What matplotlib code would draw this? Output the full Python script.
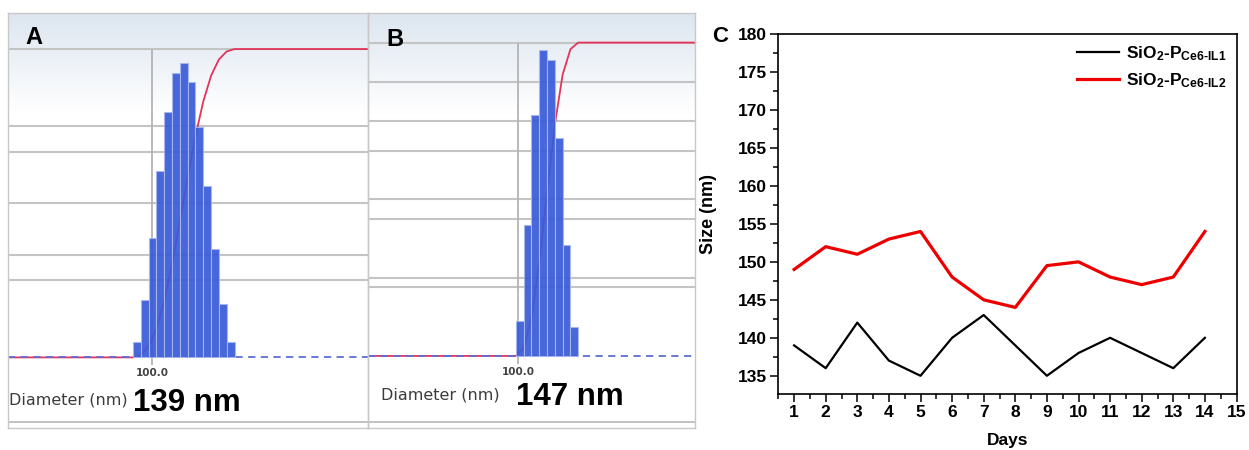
import numpy as np
import matplotlib.pyplot as plt
from matplotlib.ticker import MultipleLocator, NullLocator

plt.rcParams['font.family'] = 'Liberation Sans'
plt.rcParams['mathtext.fontset'] = 'custom'
plt.rcParams['mathtext.rm'] = 'Liberation Sans:bold'
plt.rcParams['mathtext.it'] = 'Liberation Sans:bold'
plt.rcParams['mathtext.bf'] = 'Liberation Sans:bold'

# =============================
# Data
# =============================
# panel A: DLS size distribution (bin edges in nm, bar heights scaled so cumulative plateau = 100)
edges_a = [70.3, 81.3, 94.0, 108.6, 125.6, 145.2, 167.8, 194.0, 224.3, 259.3, 299.7, 346.5, 400.5, 463.0]
heights_a = [5.1, 18.6, 38.7, 60.5, 79.6, 92.1, 95.6, 89.4, 74.8, 55.7, 35.2, 17.3, 5.1]
grid_a = [25, 33.3, 50, 66.7, 75, 100]
size_a = "139 nm"

# panel B
edges_b = [96.3, 111.3, 128.7, 148.8, 172.0, 198.8, 229.8, 265.7, 307.1]
heights_b = [11.3, 41.8, 76.9, 97.7, 94.5, 69.7, 35.4, 9.2]
grid_b = [21.9, 25, 43.7, 50, 65.5, 75, 87.4, 100]
size_b = "147 nm"

# panel C: size stability over 14 days
days = list(range(1, 15))
size_il1 = [139, 136, 142, 137, 135, 140, 143, 139, 135, 138, 140, 138, 136, 140]
size_il2 = [149, 152, 151, 153, 154, 148, 145, 144, 149.5, 150, 148, 147, 148, 154]

W, H = 1249, 450
fig = plt.figure(figsize=(12.49, 4.5), dpi=100)


def px_axes(x0, y0, x1, y1):
    return fig.add_axes([x0 / W, 1 - y1 / H, (x1 - x0) / W, (y1 - y0) / H])


def px_text(x, y, s, **kw):
    fig.text(x / W, 1 - y / H, s, **kw)


# background gradient behind A and B
bg = px_axes(8, 13, 695, 428)
t = np.linspace(0, 1, 300)[:, None, None]
frac = np.clip(t / 0.24, 0, 1)
top = np.array([0.865, 0.9, 0.94])
bg.imshow(top * (1 - frac) + np.ones(3) * frac, aspect='auto', extent=[0, 1, 0, 1])
bg.axis('off')


def dls_panel(box, edges, heights, grids, xlim, ylim, bottom_line):
    ax = px_axes(*box)
    ax.set_facecolor('none')
    ax.set_xscale('log')
    ax.set_xlim(xlim)
    ax.set_ylim(ylim)
    for g in grids:
        ax.axhline(g, color='#c4c4c4', lw=1.5, zorder=1)
    ax.axhline(bottom_line, color='#b8b8b8', lw=1.2, zorder=1)
    ax.vlines(100, -2.5, 100, color='#b4b4b4', lw=1.3, zorder=1)
    # cumulative curve
    cum = np.concatenate([[0], np.cumsum(heights)]) / np.sum(heights) * 100
    cx = [xlim[0]] + list(edges) + [xlim[1]]
    cy = [0] + list(cum) + [100]
    ax.plot(cx, cy, color='#e3345c', lw=1.3, zorder=2)
    ax.axhline(0, color='#5c6fd0', lw=1.3, ls=(0, (4, 3)), zorder=2.5)
    ax.bar(edges[:-1], heights, width=np.diff(edges), align='edge',
           color='#3a5bd9', edgecolor='#a9b8ea', lw=0.8, alpha=0.93, zorder=3)
    ax.text(100, -5, "100.0", ha='center', va='center', fontsize=7.5,
            fontweight='bold', color='#444444', family='DejaVu Sans')
    ax.xaxis.set_major_locator(NullLocator())
    ax.xaxis.set_minor_locator(NullLocator())
    ax.set_yticks([])
    for s in ax.spines.values():
        s.set_color('#c8c8c8')
        s.set_linewidth(1)
    return ax


dls_panel((8, 13, 368, 428), edges_a, heights_a, grid_a, (6.90, 5521), (-22.9, 111.7), -20.8)
dls_panel((368, 12.5, 695, 428), edges_b, heights_b, grid_b, (6.17, 2690), (-23.0, 109.6), -21.0)

diam_kw = dict(fontsize=11.5, color='#3b3b3b', family='DejaVu Sans', va='center')
big_kw = dict(fontsize=22.5, fontweight='bold', va='center')
px_text(9, 400, "Diameter (nm)", **diam_kw)
px_text(133, 403, size_a, **big_kw)
px_text(381, 395, "Diameter (nm)", **diam_kw)
px_text(516, 397, size_b, **big_kw)
px_text(25, 38, "A", fontsize=17, fontweight='bold', va='center')
px_text(386, 39, "B", fontsize=17, fontweight='bold', va='center')
px_text(712, 37, "C", fontsize=16, fontweight='bold', va='center')

# =============================
# Panel C
# =============================
ax = px_axes(778.3, 34, 1236.5, 394)
ax.plot(days, size_il1, color='black', lw=1.6, label=r'SiO$_2$-P$_{\text{Ce6-IL1}}$')
ax.plot(days, size_il2, color='#ee0000', lw=2.3, label=r'SiO$_2$-P$_{\text{Ce6-IL2}}$')
ax.set_xlim(0.5, 15)
ax.set_ylim(132.6, 180)
ax.xaxis.set_major_locator(MultipleLocator(1))
ax.xaxis.set_minor_locator(MultipleLocator(0.5))
ax.yaxis.set_major_locator(MultipleLocator(5))
ax.yaxis.set_minor_locator(MultipleLocator(2.5))
ax.tick_params(which='major', direction='out', length=6, width=1.1, labelsize=12.5, pad=2)
ax.tick_params(which='minor', direction='out', length=3.5, width=1.1)
for lab in ax.get_xticklabels() + ax.get_yticklabels():
    lab.set_fontweight('bold')
for s in ax.spines.values():
    s.set_linewidth(1.2)
ax.set_xlabel("Days", fontsize=12.5, fontweight='bold', labelpad=9)
ax.set_ylabel("Size (nm)", fontsize=13, fontweight='bold', labelpad=15)
leg = ax.legend(loc='upper right', frameon=False, fontsize=12.5, handlelength=2.4,
                handletextpad=0.4, labelspacing=0.45, borderaxespad=0.2)
for txt in leg.get_texts():
    txt.set_fontweight('bold')

fig.savefig("out.png", dpi=100)
